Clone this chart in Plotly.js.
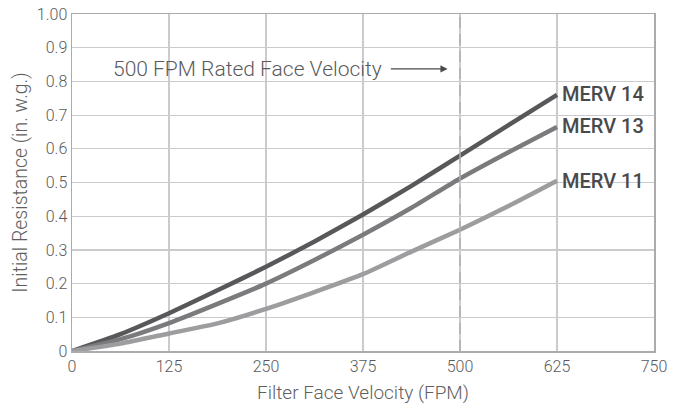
<!DOCTYPE html>
<html>
<head>
<meta charset="utf-8">
<script src="https://cdn.plot.ly/plotly-3.0.1.min.js"></script>
<style>html,body{margin:0;padding:0;background:#fff;}#chart{width:677px;height:409px;}</style>
</head>
<body>
<div id="chart"></div>
<script>
const velocity = [0, 62.5, 125, 187.5, 250, 312.5, 375, 437.5, 500, 562.5, 625];
const merv14 = [0, 0.05, 0.112, 0.18, 0.25, 0.325, 0.405, 0.49, 0.58, 0.67, 0.76];
const merv13 = [0, 0.035, 0.083, 0.14, 0.20, 0.27, 0.345, 0.425, 0.512, 0.59, 0.665];
const merv11 = [0, 0.022, 0.052, 0.082, 0.125, 0.175, 0.228, 0.295, 0.36, 0.43, 0.505];
const seriesNames = ["MERV 14", "MERV 13", "MERV 11"];
const seriesColors = ["#58585a", "#7b7b7d", "#9d9d9f"];
const xTicks = [0, 125, 250, 375, 500, 625, 750];
const yTicks = [0, 0.1, 0.2, 0.3, 0.4, 0.5, 0.6, 0.7, 0.8, 0.9, 1.0];
const yTickText = ["0", "0.1", "0.2", "0.3", "0.4", "0.5", "0.6", "0.7", "0.8", "0.9", "1.00"];
const ratedVelocity = 500;
const noteText = "500 FPM Rated Face Velocity";

const FONT = "Roboto, 'Liberation Sans', Arial, sans-serif";
const allSeries = [merv14, merv13, merv11];

const traces = allSeries.map((ys, i) => ({
  x: velocity, y: ys, type: 'scatter', mode: 'lines',
  name: seriesNames[i],
  line: {color: seriesColors[i], width: 4.5, shape: 'spline', smoothing: 0.6},
  hoverinfo: 'skip'
}));

const labelAnns = allSeries.map((ys, i) => ({
  x: velocity[velocity.length - 1], y: ys[ys.length - 1],
  xref: 'x', yref: 'y', xanchor: 'left', yanchor: 'middle',
  xshift: 3, yshift: i === 2 ? 0 : 1,
  text: seriesNames[i], showarrow: false,
  font: {family: FONT, size: 20, color: '#4a4a4c', weight: 500}
}));

const layout = {
  width: 677, height: 409,
  margin: {l: 72, r: 23, t: 14, b: 58},
  paper_bgcolor: '#fff', plot_bgcolor: '#fff',
  showlegend: false,
  font: {family: FONT, color: '#5a5a5c', size: 16, weight: 300},
  xaxis: {
    range: [0, 750], tickvals: xTicks, ticktext: xTicks.map(String),
    showgrid: true, gridcolor: '#cbcbcd', gridwidth: 1.2,
    showline: true, linecolor: '#ababad', linewidth: 1.5, mirror: true,
    zeroline: false, ticks: '', ticklen: 0,
    tickfont: {family: FONT, size: 16, color: '#5a5a5c', weight: 300},
    title: {text: 'Filter Face Velocity (FPM)', standoff: 11,
      font: {family: FONT, size: 19, color: '#5f5f61', weight: 300}}
  },
  yaxis: {
    range: [0, 1.0], tickvals: yTicks, ticktext: yTickText,
    showgrid: true, gridcolor: '#cbcbcd', gridwidth: 1.2,
    showline: true, linecolor: '#ababad', linewidth: 1.5, mirror: true,
    zeroline: false, ticks: '', ticklen: 0,
    tickfont: {family: FONT, size: 16, color: '#5a5a5c', weight: 300},
    title: {text: 'Initial Resistance (in. w.g.)', standoff: 4,
      font: {family: FONT, size: 19.5, color: '#5f5f61', weight: 300}}
  },
  shapes: [{
    type: 'line', xref: 'x', yref: 'paper',
    x0: ratedVelocity, x1: ratedVelocity, y0: 0, y1: 1,
    line: {color: '#b0b0b2', width: 1.5, dash: '11px,6px'}
  }],
  annotations: [
    {x: 50, y: 0.837, xref: 'x', yref: 'y', xanchor: 'left', yanchor: 'middle',
     text: noteText, showarrow: false,
     font: {family: FONT, size: 21, color: '#5a5a5c', weight: 300}},
    {x: 484, y: 0.837, xref: 'x', yref: 'y', ax: 409, ay: 0.837, axref: 'x', ayref: 'y',
     text: '', showarrow: true, arrowhead: 2, arrowsize: 1.1, arrowwidth: 1.3, arrowcolor: '#4a4a4c'}
  ].concat(labelAnns)
};

Plotly.newPlot('chart', traces, layout, {displayModeBar: false, staticPlot: true});
</script>
</body>
</html>
